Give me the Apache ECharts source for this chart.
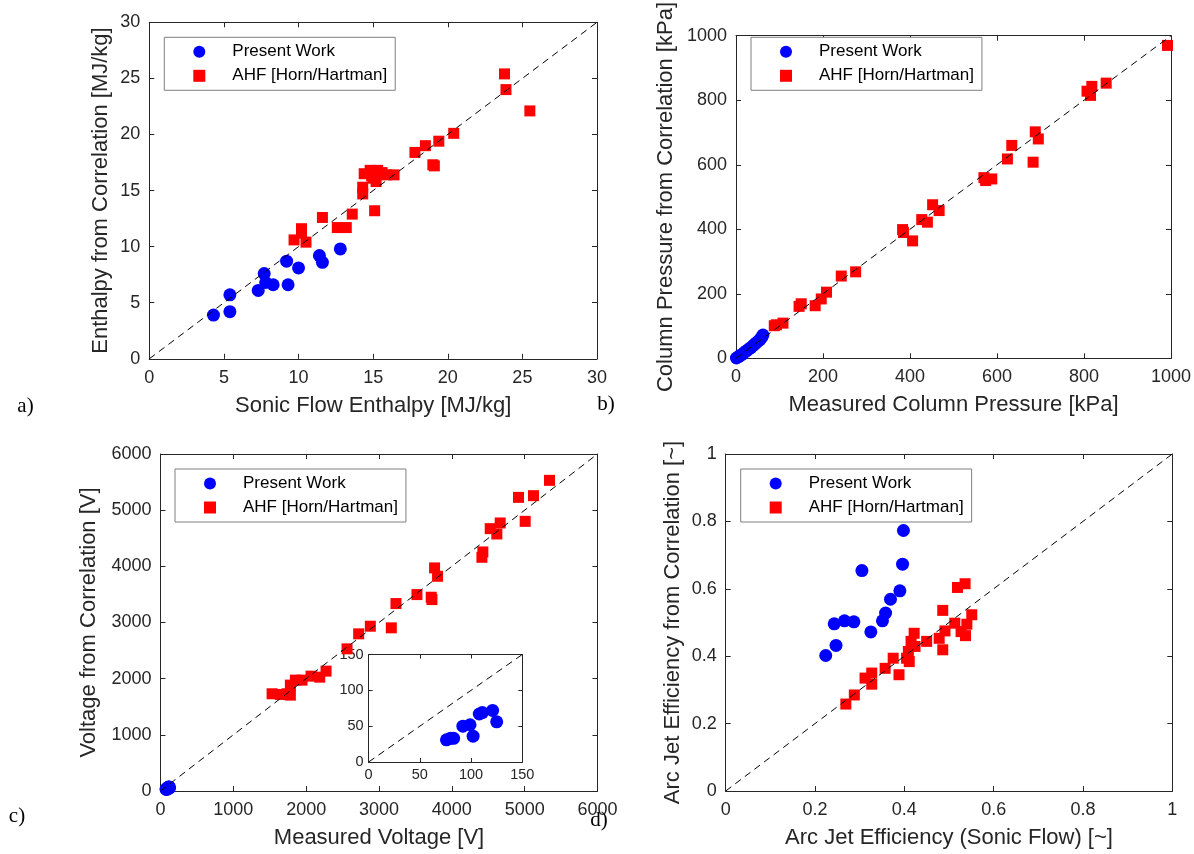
<!DOCTYPE html>
<html>
<head>
<meta charset="utf-8">
<script src="https://cdn.jsdelivr.net/npm/echarts@6/dist/echarts.min.js"></script>
<style>
html,body{margin:0;padding:0;background:#fff;}
#chart{width:1194px;height:854px;}
</style>
</head>
<body>
<div id="chart"></div>
<script>
// ---------------- DATA ----------------
var seriesNames = ['Present Work', 'AHF [Horn/Hartman]'];

// a) Enthalpy [MJ/kg]: [sonic flow, correlation]
var aBlue = [[4.3,3.9],[5.4,4.2],[5.4,5.7],[7.3,6.1],[7.7,7.6],[7.8,6.8],[8.3,6.6],[9.2,8.7],[9.3,6.6],[10.0,8.1],[11.4,9.2],[11.6,8.6],[12.8,9.8]];
var aRed = [[23.8,25.4],[23.9,24.0],[25.5,22.1],[20.4,20.1],[19.4,19.4],[18.5,19.0],[17.8,18.4],[19.0,17.3],[19.1,17.2],
            [14.4,16.5],[14.8,16.8],[15.3,16.8],[15.0,16.1],[15.2,15.8],[15.9,16.4],[16.4,16.4],[15.6,16.6],[14.9,16.3],
            [14.3,15.3],[14.3,14.7],[15.1,13.2],[13.6,12.9],[11.6,12.6],[12.6,11.7],[13.2,11.7],[10.2,11.6],[10.2,11.2],[9.7,10.6],[10.5,10.4]];
var aTicks = [0, 30, 5];

// b) Column pressure [kPa]: [measured, correlation]
var bBlue = [[1,1],[6,5],[10,9],[15,13],[19,18],[24,23],[29,28],[34,33],[40,40],[45,46],[50,52],[55,58],[59,65],[62,72]];
var bRed = [[992,970],[851,853],[818,843],[807,828],[815,815],[688,702],[695,680],[683,608],[634,660],[624,618],
            [570,560],[574,551],[588,556],[452,476],[467,458],[427,430],[440,422],[383,399],[385,390],[406,364],
            [275,268],[242,255],[208,205],[196,184],[182,163],[150,169],[145,161],[108,109],[93,104],[88,101]];
var bTicks = [0, 1000, 200];

// c) Voltage [V]: [measured, correlation]
var cBlue = [[76,31],[80,33],[83,33],[92,50],[99,52],[102,36],[108,67],[111,69],[121,72],[125,56]];
var cRed = [[5341,5531],[5121,5258],[4915,5228],[5007,4801],[4664,4772],[4527,4671],[4618,4576],[4426,4256],[4413,4161],
            [3763,3972],[3804,3823],[3717,3450],[3727,3408],[3521,3497],[3233,3337],[3169,2905],[2881,2934],[2721,2798],
            [2561,2531],[2273,2134],[2186,2027],[2067,2045],[1943,1974],[1852,1974],[1783,1885],[1783,1707],[1738,1731],
            [1646,1719],[1532,1731]];
var cTicks = [0, 6000, 1000];
var insetTicks = [0, 150, 50];

// d) Arc jet efficiency [~]: [sonic flow, correlation]
var dBlue = [[0.398,0.773],[0.396,0.673],[0.305,0.654],[0.390,0.594],[0.369,0.569],[0.358,0.528],[0.351,0.505],
             [0.325,0.472],[0.287,0.502],[0.266,0.505],[0.243,0.496],[0.247,0.432],[0.224,0.402]];
var dRed = [[0.536,0.615],[0.519,0.604],[0.486,0.536],[0.551,0.523],[0.513,0.498],[0.540,0.495],[0.527,0.473],
            [0.537,0.461],[0.491,0.475],[0.478,0.453],[0.486,0.419],[0.450,0.444],[0.422,0.468],[0.415,0.444],
            [0.424,0.429],[0.409,0.414],[0.411,0.384],[0.405,0.394],[0.375,0.394],[0.388,0.345],[0.357,0.364],
            [0.327,0.350],[0.327,0.317],[0.312,0.335],[0.288,0.285],[0.269,0.258]];
var dTicks = [0, 1, 0.2];

var xNames = ['Sonic Flow Enthalpy [MJ/kg]', 'Measured Column Pressure [kPa]', 'Measured Voltage [V]', 'Arc Jet Efficiency (Sonic Flow) [~]'];
var yNames = ['Enthalpy from Correlation [MJ/kg]', 'Column Pressure from Correlation [kPa]', 'Voltage from Correlation [V]', 'Arc Jet Efficiency from Correlation [~]'];
var panelLabels = ['a)', 'b)', 'c)', 'd)'];

// ---------------- STYLE / LAYOUT ----------------
var FONT = '"Liberation Sans", Arial, Helvetica, sans-serif';
var SERIF = '"Liberation Serif", "Times New Roman", serif';
var AX = '#262626';
var BLUE = '#0000ff', RED = '#ff0000';

var grids = [
  {left: 149.3, top: 22.3, width: 447.7, height: 336.5},
  {left: 736, top: 22.3, width: 436.7, height: 336},
  {left: 160.5, top: 454, width: 437, height: 337},
  {left: 725.7, top: 454, width: 446.6, height: 337},
  {left: 368.6, top: 654.5, width: 153.7, height: 107.5}
];
var yNameGaps = [37, 59, 61, 42];
var tickSets = [aTicks, bTicks, cTicks, dTicks, insetTicks];

var xAxes = [], yAxes = [];
function fmt(v){ return String(Math.round(v*1000)/1000); }
tickSets.forEach(function(t, g){
  var inset = g === 4;
  var fs = inset ? 14.5 : 18;
  var common = {
    type: 'value', gridIndex: g, min: t[0], max: t[1], interval: t[2],
    axisLine: {show: true, onZero: false, lineStyle: {color: AX, width: 1}},
    axisTick: {show: true, inside: true, length: inset ? 4 : 5, lineStyle: {color: AX, width: 1}},
    splitLine: {show: false}
  };
  xAxes.push(Object.assign({}, common, {
    position: 'bottom',
    axisLabel: {show: true, color: AX, fontSize: fs, fontFamily: FONT, margin: inset ? 5 : 10, formatter: fmt},
    name: inset ? '' : xNames[g], nameLocation: 'middle', nameGap: 36,
    nameTextStyle: {color: AX, fontSize: 22, fontFamily: FONT}
  }));
  xAxes.push(Object.assign({}, common, {position: 'top', axisLabel: {show: false}}));
  yAxes.push(Object.assign({}, common, {
    position: 'left',
    axisLabel: {show: true, color: AX, fontSize: fs, fontFamily: FONT, margin: inset ? 5 : 9, formatter: fmt},
    name: inset ? '' : yNames[g], nameLocation: 'middle', nameGap: inset ? 0 : yNameGaps[g],
    nameTextStyle: {color: AX, fontSize: 22, fontFamily: FONT}
  }));
  yAxes.push(Object.assign({}, common, {position: 'right', axisLabel: {show: false}}));
});

var blueSets = [aBlue, bBlue, cBlue, dBlue, cBlue];
var redSets = [aRed, bRed, cRed, dRed, null];
var series = [];
tickSets.forEach(function(t, g){
  series.push({
    type: 'scatter', name: seriesNames[1], xAxisIndex: 2*g, yAxisIndex: 2*g,
    data: redSets[g] || [], symbol: 'rect', symbolSize: 11,
    itemStyle: {color: RED, opacity: 1}, z: 3
  });
  series.push({
    type: 'scatter', name: seriesNames[0], xAxisIndex: 2*g, yAxisIndex: 2*g,
    data: blueSets[g], symbol: 'circle', symbolSize: 13,
    itemStyle: {color: BLUE, opacity: 1}, z: 3
  });
  series.push({
    type: 'line', xAxisIndex: 2*g, yAxisIndex: 2*g,
    data: [[t[0], t[0]], [t[1], t[1]]], symbol: 'none', silent: true,
    lineStyle: {color: '#000', width: 1, type: [7, 5]}, z: 5
  });
});

var legendPos = [[164.3, 37.3], [751, 37.3], [175, 469], [740.7, 469]];
var legends = legendPos.map(function(p){
  return {
    left: p[0], top: p[1], orient: 'vertical',
    data: [seriesNames[0], seriesNames[1]],
    itemWidth: 12, itemHeight: 12, itemGap: 7,
    padding: [6, 8, 6, 29],
    borderColor: '#7f7f7f', borderWidth: 1, backgroundColor: '#fff',
    textStyle: {fontSize: 17, color: '#000', fontFamily: FONT, padding: [0, 0, 0, 22]},
    itemStyle: {opacity: 1},
    selectedMode: false
  };
});

var labelPos = [[25.5, 406], [606, 404], [17, 816.5], [599, 820]];
var graphics = labelPos.map(function(p, i){
  return {
    type: 'text', x: p[0], y: p[1], z: 10,
    style: {text: panelLabels[i], font: '21px ' + SERIF, fill: '#000', textAlign: 'center', textVerticalAlign: 'middle'}
  };
});

var chart = echarts.init(document.getElementById('chart'), null, {renderer: 'canvas'});
chart.setOption({
  animation: false,
  backgroundColor: '#fff',
  grid: grids.map(function(g, i){
    return Object.assign({}, g, {show: i === 4, backgroundColor: '#fff', borderWidth: 0, z: 0});
  }),
  xAxis: xAxes,
  yAxis: yAxes,
  legend: legends,
  series: series,
  graphic: graphics
});
</script>
</body>
</html>
